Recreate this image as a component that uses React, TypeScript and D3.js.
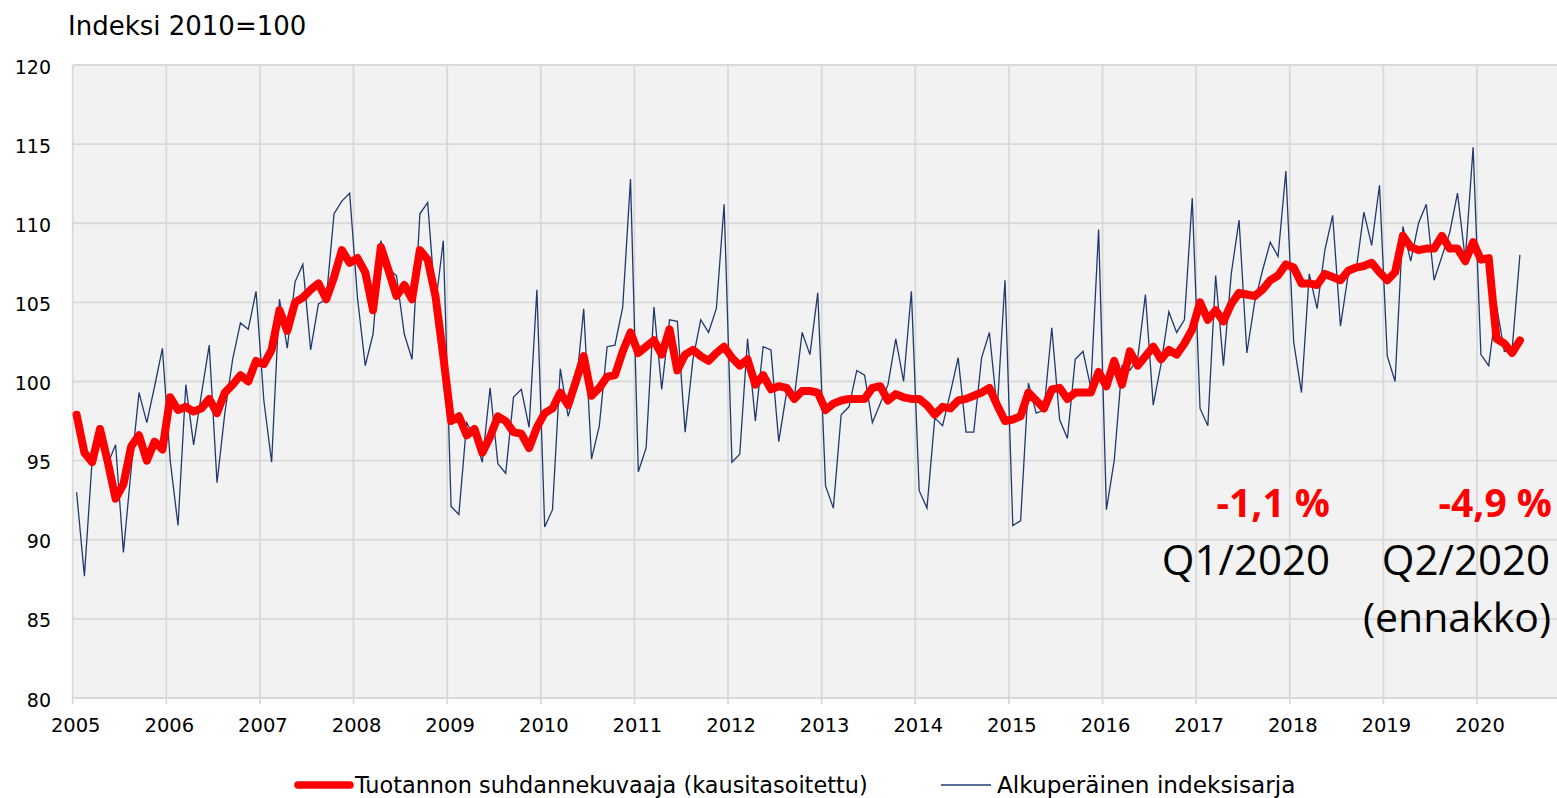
import * as d3 from 'd3';
import React from 'react';

// Monthly values, Jan 2005 – Jun 2020
const trend = [
  97.9, 95.5, 94.9, 97.0, 94.9, 92.6, 93.5, 95.9, 96.6, 95.0, 96.2, 95.7,
  99.0, 98.2, 98.4, 98.1, 98.3, 98.9, 98.0, 99.3, 99.8, 100.4, 100.0, 101.3,
  101.1, 102.0, 104.5, 103.2, 105.0, 105.3, 105.8, 106.2, 105.2, 106.6, 108.3, 107.5,
  107.8, 106.9, 104.5, 108.5, 107.0, 105.4, 106.1, 105.2, 108.3, 107.7, 105.4, 101.6,
  97.5, 97.8, 96.6, 97.0, 95.5, 96.5, 97.8, 97.5, 96.8, 96.7, 95.8, 97.1,
  98.0, 98.3, 99.3, 98.5, 100.0, 101.6, 99.1, 99.6, 100.3, 100.4, 101.9, 103.1,
  101.8, 102.2, 102.6, 101.7, 103.3, 100.7, 101.7, 102.0, 101.6, 101.3, 101.8, 102.2,
  101.5, 101.0, 101.4, 99.8, 100.4, 99.5, 99.7, 99.6, 98.9, 99.4, 99.4, 99.3,
  98.2, 98.6, 98.8, 98.9, 98.9, 98.9, 99.6, 99.7, 98.8, 99.2, 99.0, 98.9,
  98.9, 98.5, 97.9, 98.4, 98.3, 98.8, 98.9, 99.1, 99.3, 99.6, 98.5, 97.5,
  97.6, 97.8, 99.3, 98.8, 98.3, 99.5, 99.6, 98.9, 99.3, 99.3, 99.3, 100.6,
  99.7, 101.3, 99.8, 101.9, 101.0, 101.6, 102.2, 101.4, 102.0, 101.7, 102.4, 103.3,
  105.0, 103.9, 104.5, 103.8, 104.9, 105.6, 105.5, 105.4, 105.8, 106.4, 106.7, 107.4,
  107.2, 106.2, 106.2, 106.1, 106.8, 106.6, 106.4, 107.0, 107.2, 107.3, 107.5, 106.9,
  106.4, 106.9, 109.2, 108.5, 108.3, 108.4, 108.4, 109.2, 108.4, 108.4, 107.6, 108.8,
  107.7, 107.8, 102.7, 102.4, 101.8, 102.6,
];

const original = [
  93.0, 87.7, 95.1, 96.7, 94.8, 96.0, 89.2, 94.5, 99.3, 97.4, 99.7, 102.1,
  95.0, 90.9, 99.8, 96.0, 99.2, 102.3, 93.6, 98.0, 101.4, 103.7, 103.3, 105.7,
  98.8, 94.9, 105.2, 102.1, 106.3, 107.4, 102.0, 104.9, 105.2, 110.6, 111.4, 111.9,
  105.3, 101.0, 103.0, 108.9, 107.1, 106.7, 103.0, 101.4, 110.6, 111.3, 104.8, 108.9,
  92.1, 91.6, 97.4, 96.5, 94.9, 99.6, 94.8, 94.2, 99.0, 99.5, 97.1, 105.8,
  90.8, 91.9, 100.8, 97.8, 99.5, 104.6, 95.1, 97.2, 102.2, 102.3, 104.7, 112.8,
  94.3, 95.8, 104.7, 99.5, 103.9, 103.8, 96.8, 101.4, 103.9, 103.1, 104.6, 111.2,
  94.9, 95.4, 102.7, 97.5, 102.2, 102.0, 96.2, 99.3, 99.0, 103.1, 101.7, 105.6,
  93.4, 92.0, 97.9, 98.4, 100.7, 100.4, 97.4, 98.6, 99.8, 102.7, 100.0, 105.7,
  93.1, 92.0, 97.7, 97.2, 99.3, 101.5, 96.8, 96.8, 101.5, 103.1, 98.2, 106.4,
  90.9, 91.2, 99.9, 98.0, 98.2, 103.4, 97.6, 96.4, 101.4, 101.9, 99.6, 109.6,
  91.9, 95.0, 101.0, 100.7, 101.4, 105.5, 98.5, 101.1, 104.4, 103.1, 103.9, 111.6,
  98.3, 97.2, 106.7, 101.0, 106.8, 110.2, 101.8, 105.0, 107.0, 108.8, 107.9, 113.3,
  102.5, 99.3, 106.8, 104.6, 108.3, 110.5, 103.5, 106.8, 107.0, 110.7, 108.6, 112.4,
  101.6, 100.0, 109.8, 107.6, 110.0, 111.2, 106.4, 107.9, 109.4, 111.9, 107.7, 114.8,
  101.7, 101.0, 104.8, 101.9, 102.0, 108.0,
];

const years = d3.range(2005, 2021);
const yTicks = [80, 85, 90, 95, 100, 105, 110, 115, 120];

const seriesNames = ['Tuotannon suhdannekuvaaja (kausitasoitettu)', 'Alkuperäinen indeksisarja'];

const width = 1557;
const height = 798;
const plotLeft = 72.7;
const plotTop = 65;
const plotBottom = 698;
const yearWidth = 93.62;

const gridColor = '#d9d9d9';
const red = '#ff0000';
const navy = '#1f3a70';
const font = '"DejaVu Sans", sans-serif';
const annoFont = '"Open Sans", sans-serif';

export default function App() {
  const x = d3.scaleLinear()
    .domain([0, 180])
    .range([plotLeft, plotLeft + 15 * yearWidth]);

  const y = d3.scaleLinear()
    .domain([80, 120])
    .range([plotBottom, plotTop]);

  // points sit in the middle of each month
  const line = d3.line<number>()
    .x((_, i) => x(i + 0.5))
    .y(d => y(d));

  return (
    <svg
      width={width}
      height={height}
      viewBox={`0 0 ${width} ${height}`}
      style={{ position: 'absolute', left: 0, top: 0, background: '#fff' }}
    >
      <text x={68} y={35} fontFamily={font} fontSize={26} fill="#000">Indeksi 2010=100</text>

      <rect x={plotLeft} y={plotTop} width={width - plotLeft} height={plotBottom - plotTop} fill="#f2f2f2" />

      {/* horizontal grid + y labels */}
      {yTicks.map(t => (
        <g key={t}>
          <line x1={plotLeft} x2={width} y1={y(t)} y2={y(t)} stroke={gridColor} strokeWidth={1.8} />
          <text x={51} y={y(t) + 8.5} textAnchor="end" fontFamily={font} fontSize={19} fill="#000">{t}</text>
        </g>
      ))}

      {/* vertical grid + year labels */}
      {years.map((yr, k) => (
        <g key={yr}>
          <line x1={x(k * 12)} x2={x(k * 12)} y1={plotTop} y2={plotBottom + 6} stroke={gridColor} strokeWidth={1.8} />
          <text x={x(k * 12) + 3} y={732} textAnchor="middle" fontFamily={font} fontSize={19.5} fill="#000">{yr}</text>
        </g>
      ))}

      <path d={line(original) ?? ''} fill="none" stroke={navy} strokeWidth={1.3} strokeLinejoin="miter" />
      <path d={line(trend) ?? ''} fill="none" stroke={red} strokeWidth={8} strokeLinejoin="round" strokeLinecap="round" />

      {/* annotations */}
      <text x={1330} y={517} textAnchor="end" fontFamily={annoFont} fontWeight="bold" fontSize={39} fill={red}>-1,1 %</text>
      <text x={1330} y={575} textAnchor="end" fontFamily={annoFont} fontSize={42} fill="#000">Q1/2020</text>
      <text x={1552} y={517} textAnchor="end" fontFamily={annoFont} fontWeight="bold" fontSize={39} fill={red}>-4,9 %</text>
      <text x={1550} y={575} textAnchor="end" fontFamily={annoFont} fontSize={42} fill="#000">Q2/2020</text>
      <text x={1551} y={632} textAnchor="end" fontFamily={annoFont} fontSize={41} fill="#000">(ennakko)</text>

      {/* legend */}
      <line x1={298} x2={350} y1={785} y2={785} stroke={red} strokeWidth={7.5} strokeLinecap="round" />
      <text x={355} y={793} fontFamily={font} fontSize={22.4} fill="#000">{seriesNames[0]}</text>
      <line x1={941} x2={991} y1={785} y2={785} stroke={navy} strokeWidth={1.3} />
      <text x={997} y={793} fontFamily={font} fontSize={23.2} fill="#000">{seriesNames[1]}</text>
    </svg>
  );
}
